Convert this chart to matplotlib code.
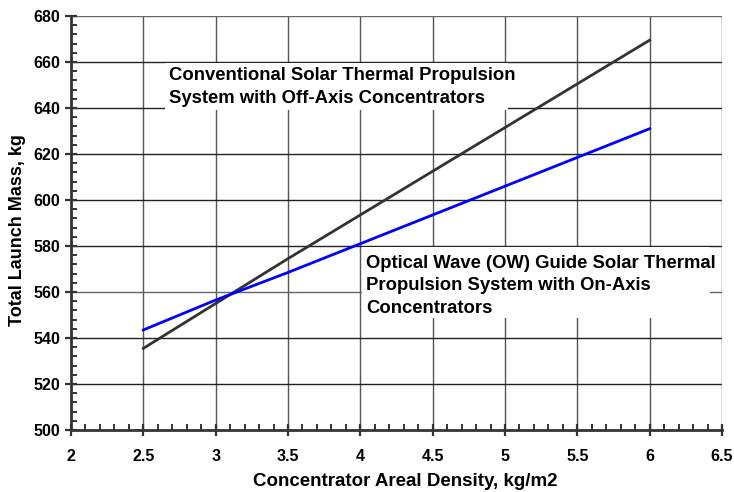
import matplotlib
matplotlib.use("Agg")
import matplotlib.pyplot as plt
from matplotlib.ticker import MultipleLocator
from matplotlib.patches import Rectangle

plt.rcParams['font.family'] = ['Liberation Sans', 'DejaVu Sans']
plt.rcParams['font.weight'] = 'bold'

density = [2.5, 3.0, 3.5, 4.0, 4.5, 5.0, 5.5, 6.0]
conventional = [535.5, 555.0, 574.5, 593.5, 612.5, 631.5, 650.5, 669.5]
ow_guide = [543.5, 556.5, 568.5, 581.0, 593.5, 606.0, 618.5, 631.0]

x_ticks = [2, 2.5, 3, 3.5, 4, 4.5, 5, 5.5, 6, 6.5]
y_ticks = [500, 520, 540, 560, 580, 600, 620, 640, 660, 680]

fig = plt.figure(figsize=(7.34, 4.92), dpi=100)
ax = fig.add_axes([71/734, 1 - 430/492, (722-71)/734, (430-16)/492])

ax.set_xlim(2, 6.5)
ax.set_ylim(500, 680)
ax.set_xticks(x_ticks)
ax.set_xticklabels([f"{t:g}" for t in x_ticks])
ax.set_yticks(y_ticks)
ax.xaxis.set_minor_locator(MultipleLocator(0.1))
ax.yaxis.set_minor_locator(MultipleLocator(4))

for xv in x_ticks[1:]:
    ax.axvline(xv, color='#555555', lw=1.0, zorder=1)
for yv in y_ticks[1:]:
    ax.axhline(yv, color='#222222' if yv not in (560, 680) else '#666666', lw=1.0, zorder=1)

# white label backgrounds
ax.add_patch(Rectangle((2.65, 639.3), 5.02 - 2.65, 660 - 639.3 - 0.5,
                       fc='white', ec='none', zorder=2))
ax.add_patch(Rectangle((4.01, 548.5), 6.42 - 4.01, 579.5 - 548.5,
                       fc='white', ec='none', zorder=2))

ax.plot(density, conventional, color='#333333', lw=2.0, zorder=3)
ax.plot(density, ow_guide, color='#0000ff', lw=2.0, zorder=3)

for s in ['top', 'right']:
    ax.spines[s].set_visible(False)
for s in ['left', 'bottom']:
    ax.spines[s].set_color('#333333')
    ax.spines[s].set_linewidth(2.0)
    ax.spines[s].set_zorder(5)

ax.tick_params(which='major', direction='inout', length=8, width=1.6, color='#333333',
               labelsize=11.5, pad=4)
ax.tick_params(which='minor', direction='in', length=4, width=1.4, color='#333333')
for lab in ax.get_xticklabels() + ax.get_yticklabels():
    lab.set_fontweight('bold')
ax.tick_params(axis='x', pad=10)

ax.text(2.68, 657.8, "Conventional Solar Thermal Propulsion\nSystem with Off-Axis Concentrators",
        fontsize=13.3, fontweight='bold', ha='left', va='top', linespacing=1.45, zorder=4)
ax.text(4.04, 576.3, "Optical Wave (OW) Guide Solar Thermal\nPropulsion System with On-Axis\nConcentrators",
        fontsize=13.3, fontweight='bold', ha='left', va='top', linespacing=1.45, zorder=4)

ax.set_xlabel("Concentrator Areal Density, kg/m2", fontsize=13.5, fontweight='bold')
ax.set_ylabel("Total Launch Mass, kg", fontsize=13, fontweight='bold')
ax.xaxis.set_label_coords((405 - 71) / 651, -(482 - 430) / 414)
ax.yaxis.set_label_coords(-(71 - 18) / 651, (430 - 230) / 414)
ax.xaxis.label.set_va('center')
ax.yaxis.label.set_va('center')

fig.savefig("out.png", dpi=100)
